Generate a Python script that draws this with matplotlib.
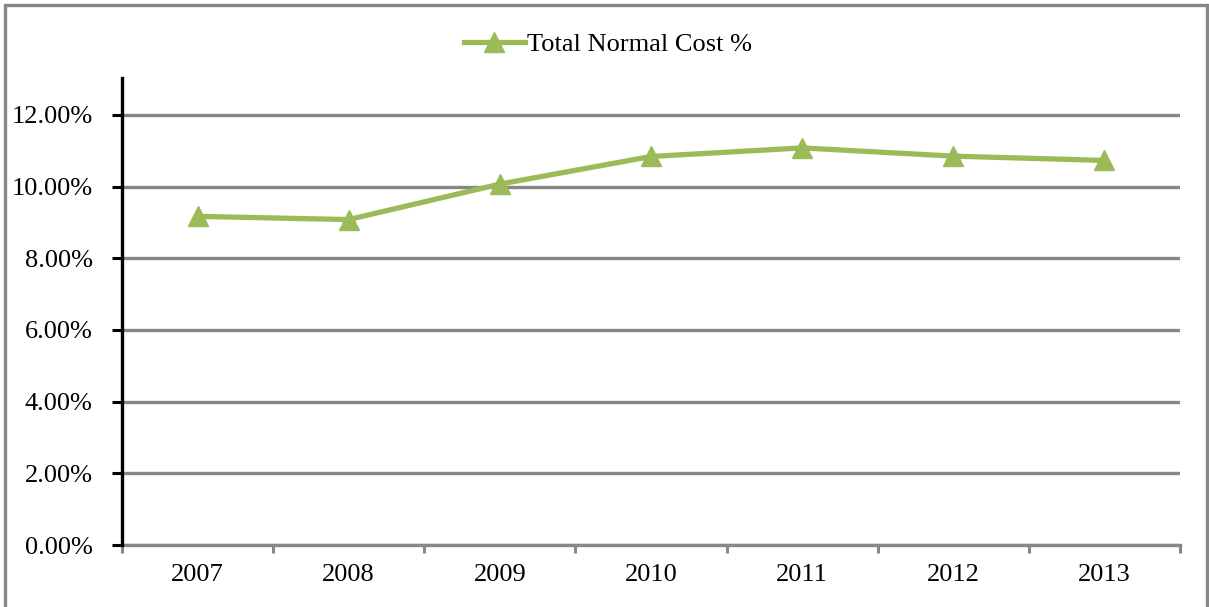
import matplotlib.pyplot as plt
from matplotlib.patches import Rectangle
from matplotlib.ticker import FuncFormatter

# -----------------------------
# Data
# -----------------------------
years = ['2007', '2008', '2009', '2010', '2011', '2012', '2013']
normal_cost = [9.17, 9.08, 10.07, 10.84, 11.08, 10.85, 10.73]   # percent
series_name = 'Total Normal Cost %'

green = '#9BBB59'
grid_gray = '#878787'

plt.rcParams['font.family'] = ['Liberation Serif', 'DejaVu Serif']

fig = plt.figure(figsize=(12.09, 6.07), dpi=100)
ax = fig.add_axes([0.1009, 0.1021, 0.8751, 0.7694])

x = list(range(len(years)))
line, = ax.plot(x, normal_cost, color=green, lw=3.8, marker='^', markersize=14,
                markeredgecolor=green, markerfacecolor=green,
                solid_joinstyle='round', label=series_name, zorder=3)

ax.set_xlim(-0.5, len(years) - 0.5)
ax.set_ylim(0, 13.03)
ax.set_yticks([0, 2, 4, 6, 8, 10, 12])
ax.yaxis.set_major_formatter(FuncFormatter(lambda v, p: f'{v:.2f}%'))
ax.yaxis.grid(True, color=grid_gray, lw=2.4)
ax.set_axisbelow(True)

ax.set_xticks(x)
ax.set_xticklabels(years)
ax.set_xticks([i - 0.5 for i in range(len(years) + 1)], minor=True)

for s in ['top', 'right']:
    ax.spines[s].set_visible(False)
ax.spines['left'].set_color('black')
ax.spines['left'].set_linewidth(2.4)
ax.spines['left'].set_zorder(4)
ax.spines['bottom'].set_color(grid_gray)
ax.spines['bottom'].set_linewidth(2.4)

ax.tick_params(axis='y', length=7, width=2.2, color='black', pad=14, labelsize=19)
ax.tick_params(axis='x', which='major', length=0, pad=14, labelsize=19)
ax.tick_params(axis='x', which='minor', length=6, width=2.2, color=grid_gray)

fig.legend(handles=[line], loc='center', bbox_to_anchor=(0.503, 0.9275),
           frameon=False, fontsize=19, handlelength=2.3, handletextpad=0.1)

# outer chart border
fig.patches.append(Rectangle((0.0045, -0.05), 0.994, 1.042, transform=fig.transFigure,
                             fill=False, edgecolor=grid_gray, lw=2.4))

plt.savefig('out.png', dpi=100)
